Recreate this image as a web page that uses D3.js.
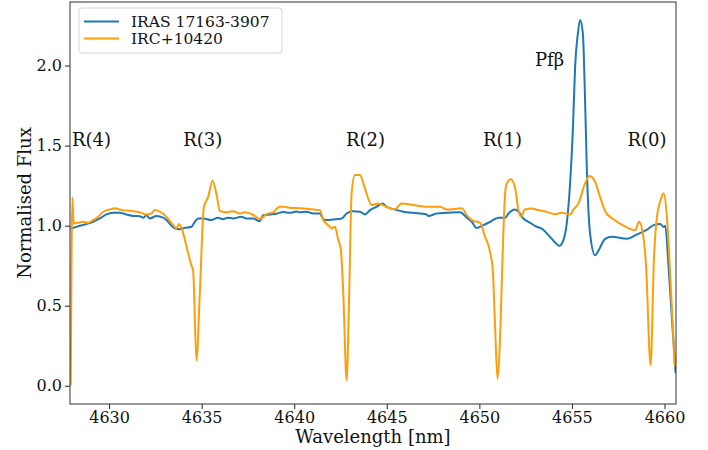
<!DOCTYPE html>
<html>
<head>
<meta charset="utf-8">
<script src="https://cdn.jsdelivr.net/npm/d3@7"></script>
<style>
  body { margin: 0; background: #fff; }
  text { font-family: "DejaVu Serif", serif; fill: #111; }
</style>
</head>
<body>
<div id="chart"></div>
<script>
// IRAS 17163-3907 spectrum (wavelength nm, normalised flux)
var irasWave = [4627.90, 4628.05, 4628.42, 4628.78, 4629.14, 4629.50, 4629.86, 4630.22, 4630.58, 4630.94,
  4631.30, 4631.66, 4631.84, 4632.02, 4632.20, 4632.56, 4632.92, 4633.10, 4633.37, 4633.55,
  4633.82, 4634.09, 4634.45, 4634.63, 4634.81, 4635.07, 4635.52, 4635.88, 4636.15, 4636.42,
  4636.70, 4637.15, 4637.42, 4637.78, 4638.14, 4638.32, 4638.68, 4639.04, 4639.41, 4639.77,
  4640.13, 4640.31, 4640.67, 4641.03, 4641.39, 4641.57, 4641.75, 4642.11, 4642.56, 4642.83,
  4643.19, 4643.55, 4643.82, 4644.09, 4644.44, 4644.77, 4644.98, 4645.43, 4645.89, 4646.43,
  4647.16, 4647.24, 4647.70, 4648.24, 4648.96, 4649.32, 4649.59, 4649.85, 4650.22, 4650.58,
  4651.03, 4651.39, 4651.57, 4651.93, 4652.11, 4652.38, 4652.74, 4653.09, 4653.37, 4653.73,
  4654.09, 4654.32, 4654.54, 4654.72, 4654.90, 4655.05, 4655.17, 4655.32, 4655.44, 4655.59,
  4655.71, 4655.80, 4655.98, 4656.25, 4656.43, 4656.79, 4657.15, 4657.97, 4658.51, 4659.05,
  4659.41, 4659.77, 4659.95, 4660.04, 4660.22, 4660.40, 4660.60]
var irasFlux = [0.985, 0.986, 0.999, 1.010, 1.024, 1.045, 1.070, 1.080, 1.080, 1.070,
  1.061, 1.059, 1.050, 1.065, 1.045, 1.060, 1.050, 1.035, 0.999, 0.983,
  0.978, 0.986, 0.993, 1.024, 1.045, 1.045, 1.035, 1.050, 1.040, 1.050,
  1.045, 1.055, 1.045, 1.045, 1.028, 1.065, 1.070, 1.075, 1.085, 1.080,
  1.088, 1.083, 1.087, 1.076, 1.076, 1.039, 1.035, 1.039, 1.045, 1.076,
  1.090, 1.087, 1.070, 1.097, 1.118, 1.139, 1.118, 1.101, 1.087, 1.080,
  1.070, 1.060, 1.076, 1.080, 1.083, 1.050, 1.024, 0.986, 1.003, 1.024,
  1.050, 1.049, 1.076, 1.101, 1.087, 1.045, 1.018, 0.993, 0.982, 0.941,
  0.895, 0.874, 0.910, 1.014, 1.264, 1.600, 1.990, 2.200, 2.285, 2.200,
  1.780, 1.370, 0.950, 0.815, 0.844, 0.918, 0.931, 0.918, 0.945, 0.975,
  1.003, 1.010, 0.992, 1.000, 0.740, 0.420, 0.080]

// IRC+10420 spectrum
var ircWave = [4627.93, 4628.02, 4628.09, 4628.32, 4628.59, 4628.86, 4629.14, 4629.41, 4629.68, 4630.04,
  4630.31, 4630.67, 4631.12, 4631.48, 4631.75, 4631.98, 4632.28, 4632.47, 4632.74, 4633.10,
  4633.46, 4633.64, 4633.78, 4633.96, 4634.17, 4634.45, 4634.54, 4634.72, 4634.90, 4635.12,
  4635.35, 4635.59, 4635.80, 4635.98, 4636.34, 4636.70, 4637.06, 4637.33, 4637.78, 4638.14,
  4638.50, 4638.86, 4639.23, 4639.77, 4640.31, 4641.03, 4641.39, 4641.57, 4641.84, 4642.02,
  4642.20, 4642.38, 4642.52, 4642.65, 4642.83, 4642.97, 4643.10, 4643.28, 4643.55, 4643.82,
  4644.18, 4644.54, 4644.98, 4645.43, 4645.80, 4646.43, 4647.16, 4647.88, 4648.24, 4649.05,
  4649.32, 4649.59, 4650.04, 4650.31, 4650.55, 4650.72, 4650.85, 4650.98, 4651.12, 4651.25,
  4651.39, 4651.48, 4651.70, 4651.93, 4652.11, 4652.24, 4652.46, 4652.83, 4653.10, 4653.64,
  4654.09, 4654.45, 4654.90, 4655.08, 4655.35, 4655.71, 4655.95, 4656.25, 4656.52, 4656.79,
  4657.24, 4657.87, 4658.42, 4658.62, 4658.80, 4659.00, 4659.25, 4659.43, 4659.59, 4659.77,
  4659.95, 4660.13, 4660.33, 4660.55]
var ircFlux = [0.003, 1.176, 1.014, 1.018, 1.024, 1.018, 1.035, 1.055, 1.087, 1.101,
  1.108, 1.097, 1.093, 1.087, 1.080, 1.070, 1.076, 1.097, 1.087, 1.055,
  1.003, 0.983, 1.010, 0.970, 0.876, 0.751, 0.720, 0.158, 0.574, 1.116,
  1.178, 1.280, 1.197, 1.093, 1.083, 1.090, 1.076, 1.083, 1.068, 1.041,
  1.072, 1.083, 1.120, 1.112, 1.108, 1.101, 1.097, 1.035, 1.003, 0.983,
  0.993, 0.910, 0.848, 0.577, 0.035, 0.577, 1.202, 1.316, 1.316, 1.233,
  1.129, 1.139, 1.118, 1.101, 1.139, 1.129, 1.118, 1.118, 1.101, 1.108,
  1.066, 1.035, 1.018, 0.930, 0.850, 0.730, 0.365, 0.042, 0.300, 0.800,
  1.200, 1.264, 1.290, 1.235, 1.097, 1.055, 1.101, 1.107, 1.099, 1.086,
  1.072, 1.080, 1.070, 1.100, 1.139, 1.264, 1.310, 1.274, 1.180, 1.090,
  1.040, 0.995, 0.972, 1.024, 0.972, 0.755, 0.128, 0.800, 1.055, 1.152,
  1.202, 1.055, 0.639, 0.120]

var seriesNames = ['IRAS 17163-3907', 'IRC+10420']
var seriesColors = ['#1f77b4', '#ff9d0a']

// line annotations
var lineLabels = ['R(4)', 'R(3)', 'R(2)', 'R(1)', 'R(0)', 'Pfβ']
var labelWave = [4628, 4634, 4642.8, 4650.2, 4658, 4653]
var labelFlux = [1.5, 1.5, 1.5, 1.5, 1.5, 2.0]

var xTicks = [4630, 4635, 4640, 4645, 4650, 4655, 4660]
var yTicks = [0.0, 0.5, 1.0, 1.5, 2.0]

var margin = { top: 2, left: 70, right: 32, bottom: 46 }
var width = 708 - margin.left - margin.right
var height = 450 - margin.top - margin.bottom

var svg = d3.select('#chart')
  .append('svg')
  .attr('width', 708)
  .attr('height', 450)

var g = svg.append('g')
  .attr('transform', 'translate(' + margin.left + ',' + margin.top + ')')

var xPositionScale = d3.scaleLinear().domain([4627.89, 4660.62]).range([0, width])
var yPositionScale = d3.scaleLinear().domain([-0.114, 2.397]).range([height, 0])

g.append('clipPath').attr('id', 'clip')
  .append('rect').attr('width', width).attr('height', height)

var line = d3.line()
  .x(d => xPositionScale(d[0]))
  .y(d => yPositionScale(d[1]))
  .curve(d3.curveMonotoneX)

var series = [
  d3.zip(irasWave, irasFlux),
  d3.zip(ircWave, ircFlux)
]

series.forEach(function(data, i) {
  g.append('path')
    .datum(data)
    .attr('d', line)
    .attr('clip-path', 'url(#clip)')
    .attr('fill', 'none')
    .attr('stroke', seriesColors[i])
    .attr('stroke-width', 2)
    .attr('stroke-linejoin', 'round')
})

// annotations
lineLabels.forEach(function(t, i) {
  g.append('text')
    .text(t)
    .attr('x', xPositionScale(labelWave[i]))
    .attr('y', yPositionScale(labelFlux[i]))
    .attr('font-size', 18)
})

// Axes
var xAxis = d3.axisBottom(xPositionScale).tickValues(xTicks).tickFormat(d3.format('d'))
  .tickSizeOuter(0).tickSize(5).tickPadding(3)
g.append('g')
  .attr('class', 'axis x-axis')
  .attr('transform', 'translate(0,' + height + ')')
  .call(xAxis)

var yAxis = d3.axisLeft(yPositionScale).tickValues(yTicks).tickFormat(d3.format('.1f'))
  .tickSizeOuter(0).tickSize(5).tickPadding(3)
g.append('g')
  .attr('class', 'axis y-axis')
  .call(yAxis)

g.selectAll('.axis text').attr('font-size', 16).attr('font-family', '"DejaVu Serif", serif').attr('fill', '#111')
g.selectAll('.axis .domain').remove()
g.selectAll('.axis line').attr('stroke', '#222')

// frame
g.append('rect')
  .attr('width', width)
  .attr('height', height)
  .attr('fill', 'none')
  .attr('stroke', '#333')
  .attr('stroke-width', 1)

// axis titles
svg.append('text')
  .text('Wavelength [nm]')
  .attr('x', margin.left + width / 2)
  .attr('y', 443)
  .attr('text-anchor', 'middle')
  .attr('font-size', 18)

svg.append('text')
  .text('Normalised Flux')
  .attr('transform', 'translate(31,' + (margin.top + height / 2) + ') rotate(-90)')
  .attr('text-anchor', 'middle')
  .attr('font-size', 18)

// legend
var legend = svg.append('g').attr('transform', 'translate(79,8)')
legend.append('rect')
  .attr('width', 203)
  .attr('height', 45)
  .attr('rx', 3)
  .attr('fill', 'rgba(255,255,255,0.8)')
  .attr('stroke', '#d6d6d6')

seriesNames.forEach(function(name, i) {
  legend.append('line')
    .attr('x1', 5).attr('x2', 40)
    .attr('y1', 13.5 + i * 17).attr('y2', 13.5 + i * 17)
    .attr('stroke', seriesColors[i])
    .attr('stroke-width', 2)
  legend.append('text')
    .text(name)
    .attr('x', 52)
    .attr('y', 18.5 + i * 17)
    .attr('font-size', 15.5)
})
</script>
</body>
</html>
